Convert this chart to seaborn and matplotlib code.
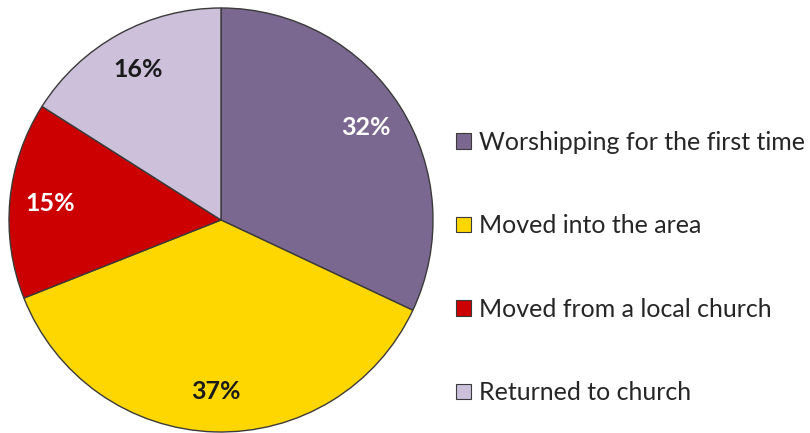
import matplotlib
matplotlib.use("Agg")
import matplotlib.pyplot as plt
import seaborn as sns
from matplotlib.patches import Patch

categories = ["Worshipping for the first time", "Moved into the area",
              "Moved from a local church", "Returned to church"]
values = [32, 37, 15, 16]
colors = ["#7B6890", "#FFD700", "#CC0000", "#CCC0DA"]
label_colors = ["white", "#1a1a1a", "white", "#1a1a1a"]

sns.set_theme(style="white")
plt.rcParams['font.family'] = ['Lato', 'DejaVu Sans']

fig = plt.figure(figsize=(8.1, 4.33), dpi=100)
ax = fig.add_axes([9/810, 1/433, 424/810, 424/433])
palette = sns.color_palette(colors)
wedges, texts, autotexts = ax.pie(
    values, colors=palette, startangle=90, counterclock=False,
    autopct=lambda p: f"{p:.0f}%", pctdistance=0.81,
    wedgeprops=dict(edgecolor="#3a3a3a", linewidth=1.0),
    textprops=dict(fontsize=18, fontweight="bold"))
for t, c in zip(autotexts, label_colors):
    t.set_color(c)
ax.set_aspect("equal")
ax.set_xlim(-1.0, 1.0)
ax.set_ylim(-1.0, 1.0)
ax.axis("off")

handles = [Patch(facecolor=c, edgecolor="#3a3a3a", linewidth=0.8) for c in palette]
fig.legend(handles, categories, loc="center left", bbox_to_anchor=(456/810, 1 - 267.5/433),
           frameon=False, fontsize=18, handlelength=0.58, handleheight=0.58,
           handletextpad=0.33, labelspacing=2.42, borderaxespad=0, borderpad=0)
fig.savefig("out.png", dpi=100)
